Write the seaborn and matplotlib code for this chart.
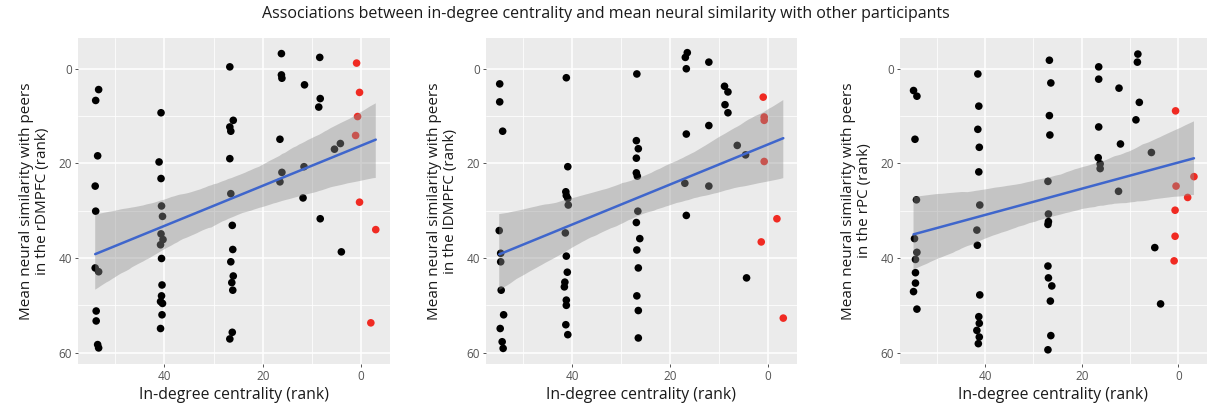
import numpy as np
import pandas as pd
import matplotlib
matplotlib.use("Agg")
import matplotlib.pyplot as plt
import seaborn as sns

# ---------------- data ----------------
# Panel 1: rDMPFC
p1_x_black = [53.4, 54.0, 53.6, 54.1, 54.0, 54.1, 53.4, 53.9, 53.9, 53.6, 53.4,
              40.7, 41.1, 40.7, 40.6, 40.4, 40.7, 40.3, 40.8, 40.6, 40.5, 40.6, 40.8, 40.4, 40.5, 40.8,
              26.7, 26.0, 26.7, 26.5, 26.7, 26.5, 26.2, 26.1, 26.5, 26.0, 26.3, 26.1, 26.2, 26.7,
              16.2, 16.2, 16.1, 16.5, 16.1, 16.5,
              11.5, 11.6, 11.8,
              8.4, 8.3, 8.6, 8.3,
              5.4, 4.2, 4.0]
p1_y_black = [4.4, 6.7, 18.4, 24.8, 30.1, 42.1, 42.9, 51.2, 53.3, 58.3, 59.0,
              9.3, 19.7, 23.2, 29.0, 31.2, 34.9, 36.1, 37.2, 40.1, 45.7, 48.0, 49.2, 49.6, 52.0, 54.9,
              -0.4, 10.9, 12.3, 13.2, 19.0, 26.4, 33.1, 38.2, 40.8, 43.8, 45.2, 46.8, 55.7, 57.1,
              -3.2, 1.3, 2.0, 14.9, 21.9, 23.9,
              3.4, 20.7, 27.3,
              -2.4, 6.3, 8.1, 31.7,
              17.0, 15.8, 38.7]
p1_x_red = [0.9, 0.3, 0.7, 1.1, 0.3, -3.0, -2.0]
p1_y_red = [-1.2, 5.0, 10.1, 14.1, 28.2, 34.0, 53.7]

# Panel 2: lDMPFC
p2_x_black = [54.8, 54.8, 54.2, 54.9, 54.6, 54.6, 54.5, 54.0, 54.7, 54.3, 54.1,
              41.2, 40.9, 41.3, 41.2, 40.9, 40.8, 41.4, 41.2, 41.0, 41.5, 41.6, 41.2, 41.2, 41.3, 40.9,
              26.8, 26.9, 26.5, 26.9, 26.9, 26.7, 26.6, 26.9, 26.2, 26.8, 26.5, 26.8, 26.5, 26.5,
              16.5, 16.9, 16.7, 17.0, 16.7, 16.7,
              12.1, 12.1, 12.1,
              8.9, 8.2, 8.8, 8.2,
              6.3, 4.6, 4.4]
p2_y_black = [3.2, 7.0, 13.2, 34.2, 39.0, 40.8, 46.8, 52.0, 54.9, 57.7, 59.1,
              1.9, 20.7, 26.0, 26.8, 27.4, 28.8, 34.7, 39.6, 43.0, 45.1, 46.1, 48.9, 50.0, 54.1, 56.2,
              1.1, 15.2, 16.9, 18.9, 22.0, 22.7, 30.1, 32.5, 35.9, 38.3, 42.1, 48.0, 51.1, 56.9,
              -3.4, -2.4, 0.0, 24.2, 13.8, 31.0,
              -1.4, 12.0, 24.8,
              3.7, 4.9, 7.6, 9.3,
              16.2, 18.2, 44.2]
p2_x_red = [1.0, 0.8, 0.8, 0.8, -1.8, 1.4, -3.1]
p2_y_red = [6.0, 10.2, 10.9, 19.6, 31.7, 36.6, 52.7]

# Panel 3: rPC
p3_x_black = [54.8, 54.1, 54.5, 54.2, 54.6, 54.1, 54.4, 54.4, 54.4, 54.8, 54.1,
              41.5, 41.3, 41.5, 41.2, 41.3, 41.1, 41.7, 41.6, 41.1, 41.3, 41.2, 41.7, 41.2, 41.4,
              26.7, 26.4, 26.7, 26.6, 27.0, 26.9, 26.9, 27.0, 27.0, 26.9, 26.2, 26.5, 26.4, 27.0,
              16.5, 16.5, 16.5, 16.6, 16.2, 16.2,
              12.3, 12.0, 12.4,
              8.4, 8.5, 8.1, 8.8,
              5.6, 4.9, 3.7]
p3_y_black = [4.6, 5.8, 14.9, 27.7, 35.9, 38.8, 40.3, 43.1, 45.3, 47.1, 50.8,
              1.1, 7.9, 12.8, 16.6, 21.8, 28.8, 34.1, 37.3, 47.8, 52.4, 53.8, 55.3, 56.7, 58.1,
              -1.8, 3.0, 9.9, 14.0, 23.8, 30.7, 32.3, 32.9, 41.7, 44.2, 45.9, 49.1, 56.4, 59.4,
              -0.4, 2.2, 12.3, 18.8, 20.1, 21.1,
              4.1, 15.9, 25.9,
              -3.1, -1.4, 7.1, 10.8,
              17.7, 37.8, 49.7]
p3_x_red = [0.6, -3.2, 0.5, -1.9, 0.7, 0.7, 0.9]
p3_y_red = [8.9, 22.8, 24.8, 27.2, 29.9, 35.4, 40.6]

regions = ["rDMPFC", "lDMPFC", "rPC"]
y_labels = ["Mean neural similarity with peers\nin the rDMPFC (rank)",
            "Mean neural similarity with peers\nin the lDMPFC (rank)",
            "Mean neural similarity with peers\nin the rPC (rank)"]
x_label = "In-degree centrality (rank)"
title = "Associations between in-degree centrality and mean neural similarity with other participants"
x_ticks = [0, 20, 40]
y_ticks = [0, 20, 40, 60]

panels = [
    (p1_x_black, p1_y_black, p1_x_red, p1_y_red),
    (p2_x_black, p2_y_black, p2_x_red, p2_y_red),
    (p3_x_black, p3_y_black, p3_x_red, p3_y_red),
]

# ---------------- style ----------------
sns.set_style("darkgrid", {"axes.facecolor": "#EBEBEB", "grid.color": "white"})
plt.rcParams["font.family"] = ["Open Sans", "DejaVu Sans"]

W, H = 1211, 405
fig = plt.figure(figsize=(W / 100, H / 100), dpi=100)
fig.patch.set_facecolor("white")

# axes boxes in pixels: (left, top, right, bottom)
boxes = [(78, 38, 390, 364), (486, 38, 797, 364), (900, 38, 1207, 364)]

LINE_BLUE = "#3F66CC"
RED = "#F02A22"

for i, (box, (xb, yb, xr, yr)) in enumerate(zip(boxes, panels)):
    l, t, r, b = box
    ax = fig.add_axes([l / W, 1 - b / H, (r - l) / W, (b - t) / H])
    df = pd.DataFrame({
        "centrality": list(xb) + list(xr),
        "similarity": list(yb) + list(yr),
        "group": ["other"] * len(xb) + ["top"] * len(xr),
    })
    sns.scatterplot(data=df, x="centrality", y="similarity", hue="group",
                    palette={"other": "black", "top": RED}, s=30,
                    linewidth=0, legend=False, ax=ax, zorder=1)
    sns.regplot(data=df, x="centrality", y="similarity", scatter=False,
                ci=95, n_boot=1000, seed=3, truncate=True, color=LINE_BLUE,
                line_kws={"linewidth": 1.8, "zorder": 3}, ax=ax)
    # ggplot-like grey confidence band drawn over the points
    band = ax.collections[-1]
    band.set_alpha(0.42)
    band.set_facecolor("#8f8f8f")
    band.set_edgecolor("none")
    band.set_zorder(2)

    ax.set_xlim(57.6, -5.9)
    ax.set_ylim(62.4, -6.5)
    ax.set_xticks(x_ticks)
    ax.set_yticks(y_ticks)
    ax.set_xticks([10, 30, 50], minor=True)
    ax.set_yticks([10, 30, 50], minor=True)
    ax.grid(which="major", color="white", linewidth=1.1)
    ax.grid(which="minor", color="white", linewidth=0.55)
    ax.tick_params(axis="both", which="major", length=2.5, width=0.7, color="#555555",
                   labelsize=8.5, labelcolor="#555555", pad=2, bottom=True, left=True)
    ax.tick_params(axis="both", which="minor", length=0)
    for s in ax.spines.values():
        s.set_visible(False)
    ax.set_xlabel(x_label, fontsize=11.3, labelpad=3, color="#1a1a1a")
    ax.set_ylabel(y_labels[i], fontsize=11.0, labelpad=6, color="#1a1a1a", linespacing=1.05)

fig.text(0.5, 0.985, title, ha="center", va="top", fontsize=11.5, color="#1a1a1a")

fig.savefig("out.png", dpi=100)
